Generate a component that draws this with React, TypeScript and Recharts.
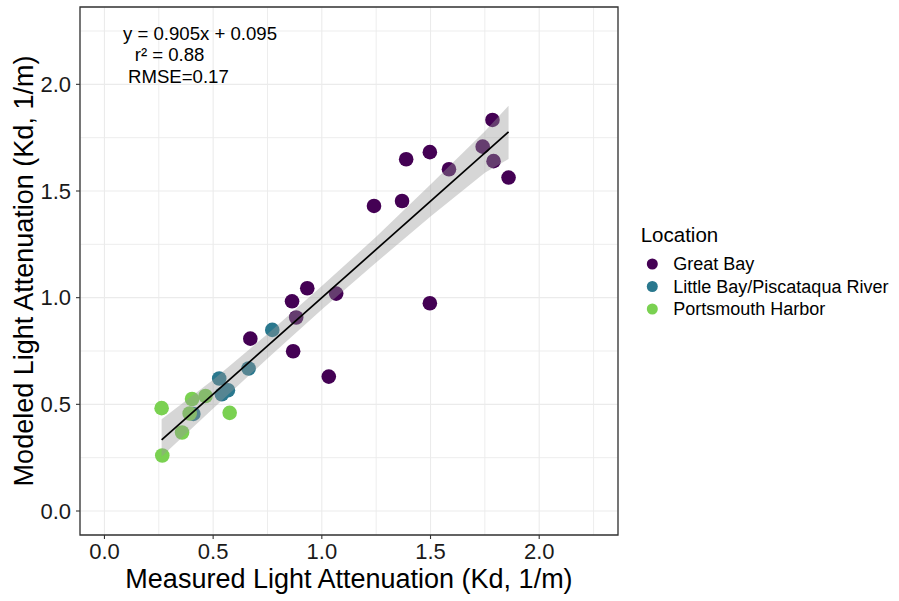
import React from 'react';
import {
  ComposedChart,
  Scatter,
  Area,
  Line,
  XAxis,
  YAxis,
  CartesianGrid,
  Legend,
  ReferenceArea,
} from 'recharts';

// Measured (x) vs modeled (y) light attenuation, by location
const greatBay = [
  { x: 0.671, y: 0.808 },
  { x: 0.868, y: 0.749 },
  { x: 0.882, y: 0.907 },
  { x: 0.863, y: 0.983 },
  { x: 0.933, y: 1.044 },
  { x: 1.066, y: 1.019 },
  { x: 1.032, y: 0.63 },
  { x: 1.24, y: 1.43 },
  { x: 1.369, y: 1.453 },
  { x: 1.388, y: 1.649 },
  { x: 1.497, y: 1.682 },
  { x: 1.585, y: 1.602 },
  { x: 1.74, y: 1.708 },
  { x: 1.785, y: 1.833 },
  { x: 1.79, y: 1.64 },
  { x: 1.859, y: 1.563 },
  { x: 1.497, y: 0.974 },
];

const littleBay = [
  { x: 0.409, y: 0.455 },
  { x: 0.528, y: 0.621 },
  { x: 0.54, y: 0.547 },
  { x: 0.568, y: 0.566 },
  { x: 0.663, y: 0.668 },
  { x: 0.772, y: 0.849 },
];

const portsmouth = [
  { x: 0.263, y: 0.482 },
  { x: 0.266, y: 0.26 },
  { x: 0.357, y: 0.368 },
  { x: 0.392, y: 0.457 },
  { x: 0.403, y: 0.525 },
  { x: 0.465, y: 0.539 },
  { x: 0.576, y: 0.46 },
];

// Fitted regression line (y = 0.905x + 0.095) end points
const fitLine = [
  { x: 0.263, y: 0.333 },
  { x: 1.859, y: 1.777 },
];

// Confidence band
const bandX = [0.263, 0.5, 0.75, 1.0, 1.25, 1.5, 1.75, 1.859];
const bandLower = [0.255, 0.48, 0.715, 0.945, 1.165, 1.38, 1.585, 1.65];
const bandUpper = [0.43, 0.615, 0.83, 1.055, 1.285, 1.53, 1.78, 1.9];

const majorTicks = [0, 0.5, 1, 1.5, 2];
const minorTicks = [0.25, 0.75, 1.25, 1.75, 2.25];
const axisDomain = [-0.1125, 2.3625];

const seriesNames = ['Great Bay', 'Little Bay/Piscataqua River', 'Portsmouth Harbor'];
const seriesColors = ['#440154', '#2A788E', '#7AD151'];

const annotationLines = ['y = 0.905x + 0.095', 'r\u00B2 = 0.88', 'RMSE=0.17'];

const FONT = '"Liberation Sans", Arial, sans-serif';

const bandData = bandX.map((x, i) => ({ x, band: [bandLower[i], bandUpper[i]] }));

const makeDot = (color: string) => (props: any) => {
  const { cx, cy } = props;
  if (cx == null || cy == null) return <g />;
  return <circle cx={cx} cy={cy} r={7.3} fill={color} stroke="none" />;
};

const LegendContent = () => (
  <svg width={260} height={110} style={{ display: 'block', fontFamily: FONT }}>
    <text x={10.7} y={22.5} fontSize={20.5} fill="#000">
      Location
    </text>
    {seriesNames.map((name, i) => (
      <g key={name}>
        <circle cx={22.3} cy={45 + i * 22.5} r={5.5} fill={seriesColors[i]} />
        <text x={43.3} y={45 + i * 22.5 + 6.3} fontSize={18} fill="#000">
          {name}
        </text>
      </g>
    ))}
  </svg>
);

const fmt = (v: number) => v.toFixed(1);

export default function App() {
  return (
    <div style={{ position: 'absolute', left: 0, top: 0, width: 899, height: 601, background: '#fff' }}>
      <ComposedChart
        width={899}
        height={601}
        data={bandData}
        margin={{ top: 7, right: 281, bottom: 0, left: 0 }}
        style={{ fontFamily: FONT }}
      >
        <CartesianGrid
          stroke="#EBEBEB"
          strokeWidth={0.9}
          verticalValues={minorTicks}
          horizontalValues={minorTicks}
        />
        <CartesianGrid stroke="#EBEBEB" strokeWidth={1.1} />
        <XAxis
          dataKey="x"
          type="number"
          domain={axisDomain}
          ticks={majorTicks}
          tickFormatter={fmt}
          allowDataOverflow
          height={66}
          axisLine={false}
          tickSize={4}
          tickMargin={4}
          tickLine={{ stroke: '#333333', strokeWidth: 1.1 }}
          tick={{ fontSize: 22, fill: '#1A1A1A', fontFamily: FONT }}
          label={{
            value: 'Measured Light Attenuation (Kd, 1/m)',
            position: 'insideBottom',
            offset: 13,
            style: { fontSize: 27, fill: '#000', fontFamily: FONT },
          }}
        />
        <YAxis
          dataKey="y"
          type="number"
          domain={axisDomain}
          ticks={majorTicks}
          tickFormatter={fmt}
          allowDataOverflow
          width={80}
          axisLine={false}
          tickSize={4}
          tickMargin={5}
          tickLine={{ stroke: '#333333', strokeWidth: 1.1 }}
          tick={{ fontSize: 22, fill: '#1A1A1A', fontFamily: FONT }}
          label={{
            value: 'Modeled Light Attenuation (Kd, 1/m)',
            angle: -90,
            position: 'insideLeft',
            offset: 23,
            style: { fontSize: 27, fill: '#000', fontFamily: FONT, textAnchor: 'middle' },
          }}
        />
        <Scatter data={greatBay} name={seriesNames[0]} fill={seriesColors[0]} shape={makeDot(seriesColors[0])} isAnimationActive={false} legendType="circle" />
        <Scatter data={littleBay} name={seriesNames[1]} fill={seriesColors[1]} shape={makeDot(seriesColors[1])} isAnimationActive={false} legendType="circle" />
        <Scatter data={portsmouth} name={seriesNames[2]} fill={seriesColors[2]} shape={makeDot(seriesColors[2])} isAnimationActive={false} legendType="circle" />
        <Area
          dataKey="band"
          type="linear"
          stroke="none"
          fill="#999999"
          fillOpacity={0.4}
          isAnimationActive={false}
          legendType="none"
          zIndex={700}
        />
        <Line
          data={fitLine}
          dataKey="y"
          type="linear"
          stroke="#000"
          strokeWidth={1.7}
          dot={false}
          activeDot={false}
          isAnimationActive={false}
          legendType="none"
          zIndex={800}
        />
        <ReferenceArea
          x1={axisDomain[0]}
          x2={axisDomain[1]}
          y1={axisDomain[0]}
          y2={axisDomain[1]}
          fill="none"
          stroke="#333333"
          strokeWidth={1.3}
          ifOverflow="visible"
        />
        <Legend
          layout="vertical"
          align="center"
          verticalAlign="middle"
          content={<LegendContent />}
          wrapperStyle={{ left: 630, top: 219, width: 260, height: 110 }}
        />
        <text x={123} y={40} fontSize={18.6} fill="#000" fontFamily={FONT}>{annotationLines[0]}</text>
        <text x={134.7} y={61} fontSize={18.6} fill="#000" fontFamily={FONT}>{annotationLines[1]}</text>
        <text x={128} y={82.7} fontSize={18.6} fill="#000" fontFamily={FONT}>{annotationLines[2]}</text>
      </ComposedChart>
    </div>
  );
}
